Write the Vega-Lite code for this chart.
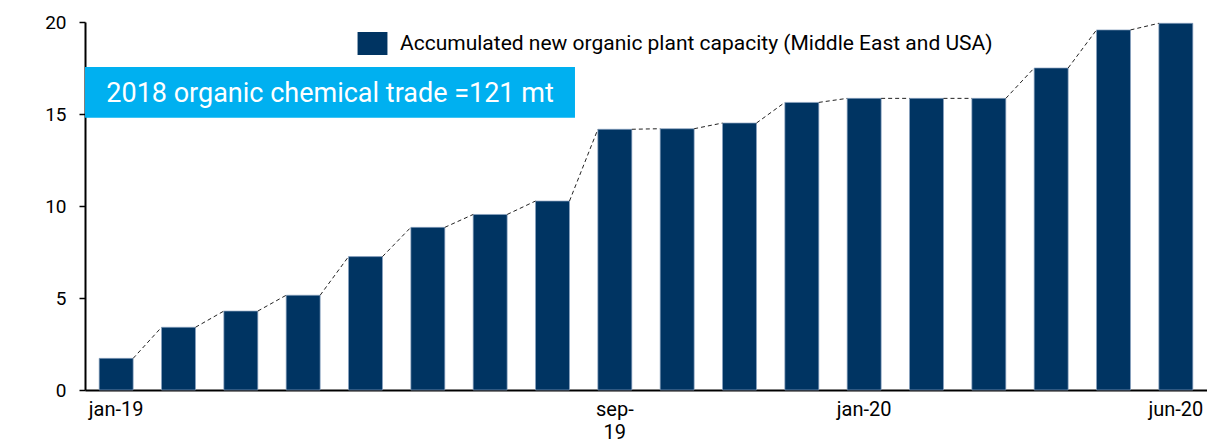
{
  "$schema": "https://vega.github.io/schema/vega-lite/v6.json",
  "width": 1122,
  "height": 368,
  "autosize": {"type": "none"},
  "padding": {"left": 85, "top": 22, "right": 0, "bottom": 58},
  "background": "white",
  "config": {
    "view": {"stroke": null},
    "font": "Roboto",
    "axis": {"labelFont": "Roboto", "labelColor": "#000000", "labelFontSize": 19, "grid": false, "domainColor": "#000000", "tickColor": "#000000", "title": null}
  },
  "datasets": {
    "cap": [
      {"m": "jan-19", "v": 1.72, "s": "Accumulated new organic plant capacity (Middle East and USA)"},
      {"m": "feb-19", "v": 3.41, "s": "Accumulated new organic plant capacity (Middle East and USA)"},
      {"m": "mar-19", "v": 4.29, "s": "Accumulated new organic plant capacity (Middle East and USA)"},
      {"m": "apr-19", "v": 5.15, "s": "Accumulated new organic plant capacity (Middle East and USA)"},
      {"m": "may-19", "v": 7.25, "s": "Accumulated new organic plant capacity (Middle East and USA)"},
      {"m": "jun-19", "v": 8.84, "s": "Accumulated new organic plant capacity (Middle East and USA)"},
      {"m": "jul-19", "v": 9.54, "s": "Accumulated new organic plant capacity (Middle East and USA)"},
      {"m": "aug-19", "v": 10.27, "s": "Accumulated new organic plant capacity (Middle East and USA)"},
      {"m": "sep-19", "v": 14.17, "s": "Accumulated new organic plant capacity (Middle East and USA)"},
      {"m": "oct-19", "v": 14.2, "s": "Accumulated new organic plant capacity (Middle East and USA)"},
      {"m": "nov-19", "v": 14.51, "s": "Accumulated new organic plant capacity (Middle East and USA)"},
      {"m": "dec-19", "v": 15.63, "s": "Accumulated new organic plant capacity (Middle East and USA)"},
      {"m": "jan-20", "v": 15.85, "s": "Accumulated new organic plant capacity (Middle East and USA)"},
      {"m": "feb-20", "v": 15.85, "s": "Accumulated new organic plant capacity (Middle East and USA)"},
      {"m": "mar-20", "v": 15.85, "s": "Accumulated new organic plant capacity (Middle East and USA)"},
      {"m": "apr-20", "v": 17.5, "s": "Accumulated new organic plant capacity (Middle East and USA)"},
      {"m": "may-20", "v": 19.57, "s": "Accumulated new organic plant capacity (Middle East and USA)"},
      {"m": "jun-20", "v": 19.93, "s": "Accumulated new organic plant capacity (Middle East and USA)"}
    ],
    "note": [
      {"x0": 0, "x1": 0.4367, "y0": 14.8, "y1": 17.55, "xm": 0.2184, "ym": 16.1, "t": "2018 organic chemical trade =121 mt"}
    ]
  },
  "layer": [
    {
      "data": {"name": "cap"},
      "encoding": {
        "x": {
          "field": "m",
          "type": "nominal",
          "scale": {
            "domain": ["jan-19","feb-19","mar-19","apr-19","may-19","jun-19","jul-19","aug-19","sep-19","oct-19","nov-19","dec-19","jan-20","feb-20","mar-20","apr-20","may-20","jun-20"],
            "paddingInner": 0.455,
            "paddingOuter": 0.2275
          },
          "axis": {
            "labelAngle": 0,
            "ticks": false,
            "domainWidth": 2,
            "labelPadding": 9,
            "labelFontSize": 20,
            "labelLineHeight": 23,
            "labelExpr": "datum.label == 'sep-19' ? ['sep-', '19'] : (datum.label == 'jan-19' || datum.label == 'jan-20' || datum.label == 'jun-20' ? datum.label : '')"
          }
        }
      },
      "layer": [
        {
          "mark": {"type": "bar", "stroke": "#8aa2c0", "strokeWidth": 0.7},
          "encoding": {
            "y": {
              "field": "v",
              "type": "quantitative",
              "scale": {"domain": [0, 20]},
              "axis": {"values": [0, 5, 10, 15, 20], "tickSize": 6, "labelPadding": 13, "domainWidth": 2, "tickWidth": 1.5}
            },
            "color": {
              "field": "s",
              "type": "nominal",
              "scale": {"range": ["#003462"]},
              "legend": {
                "title": null,
                "orient": "none",
                "legendX": 276,
                "legendY": 10,
                "padding": 0,
                "symbolType": "M-1.3,-1L1.3,-1L1.3,1L-1.3,1Z",
                "symbolSize": 529,
                "symbolStrokeWidth": 0,
                "symbolOpacity": 1,
                "labelOffset": 16,
                "labelFont": "Roboto",
                "labelFontSize": 21,
                "labelColor": "#000000",
                "labelLimit": 800
              }
            }
          }
        },
        {
          "transform": [
            {"window": [{"op": "lead", "field": "v", "as": "nv"}, {"op": "lead", "field": "m", "as": "nm"}]},
            {"filter": "datum.nm != null"}
          ],
          "mark": {"type": "rule", "strokeDash": [4, 3], "strokeWidth": 1, "color": "#222222"},
          "encoding": {
            "x": {"field": "m", "type": "nominal", "bandPosition": 1},
            "x2": {"field": "nm", "bandPosition": 0},
            "y": {"field": "v", "type": "quantitative"},
            "y2": {"field": "nv"}
          }
        }
      ]
    },
    {
      "data": {"name": "note"},
      "layer": [
        {
          "mark": {"type": "rect", "color": "#00B0F0"},
          "encoding": {
            "x": {"field": "x0", "type": "quantitative", "scale": {"domain": [0, 1]}, "axis": null},
            "x2": {"field": "x1"},
            "y": {"field": "y0", "type": "quantitative"},
            "y2": {"field": "y1"}
          }
        },
        {
          "mark": {"type": "text", "color": "white", "fontSize": 27, "font": "Roboto", "align": "center", "baseline": "middle"},
          "encoding": {
            "x": {"field": "xm", "type": "quantitative", "scale": {"domain": [0, 1]}, "axis": null},
            "y": {"field": "ym", "type": "quantitative"},
            "text": {"field": "t"}
          }
        }
      ]
    }
  ],
  "resolve": {"scale": {"x": "independent"}}
}
